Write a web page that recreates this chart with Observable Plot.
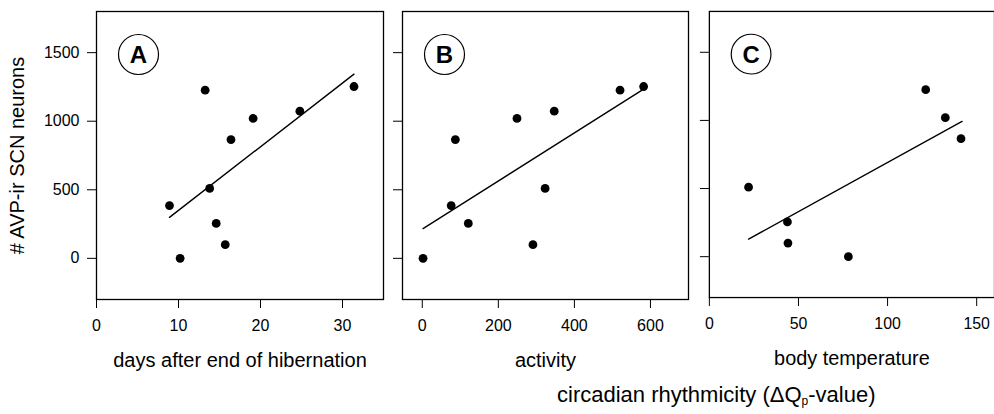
<!DOCTYPE html>
<html>
<head>
<meta charset="utf-8">
<script src="https://cdn.jsdelivr.net/npm/d3@7"></script>
<script src="https://cdn.jsdelivr.net/npm/@observablehq/plot@0.6"></script>
<style>
  html, body { margin: 0; padding: 0; background: #fff; overflow: hidden; }
  #wrap { position: relative; width: 994px; height: 414px; overflow: hidden; font-family: "Liberation Sans", Arial, sans-serif; color: #000; }
  .panel { position: absolute; top: 0; }
  #caption { position: absolute; left: 557px; top: 384px; font-size: 22px; line-height: 22px; white-space: nowrap; }
  #caption sub { font-size: 12px; vertical-align: -3px; line-height: 0; }
</style>
</head>
<body>
<div id="wrap">
  <div id="pA" class="panel" style="left:0px"></div>
  <div id="pB" class="panel" style="left:390px"></div>
  <div id="pC" class="panel" style="left:690px"></div>
  <div id="caption">circadian rhythmicity (ΔQ<sub>p</sub>-value)</div>
</div>
<script>
// number of AVP-ir SCN neurons per animal
const neurons   = [0, 100, 255, 385, 510, 866, 1020, 1073, 1226, 1253];
// circadian rhythmicity predictors (same animal order)
const daysAfter = [10.2, 15.7, 14.6, 8.9, 13.8, 16.4, 19.1, 24.8, 13.25, 31.4];
const activity  = [2, 291, 121, 76, 323, 87, 249, 347, 520, 582];
const bodyTemp  = [78, 44.1, 43.8, null, 22, 141.2, 132.4, null, 121.4, null];

// fitted regression line endpoints
const fitAx = [8.9, 31.4],  fitAy = [299, 1343];
const fitBx = [2, 582],     fitBy = [217, 1234];
const fitCx = [22, 141.8],  fitCy = [129, 993];

const yTicks = [0, 500, 1000, 1500];
const xTicksA = [0, 10, 20, 30];
const xTicksB = [0, 200, 400, 600];
const xTicksC = [0, 50, 100, 150];

const letters = ["A", "B", "C"];
const xTitles = ["days after end of hibernation", "activity", "body temperature"];
const yTitle = "# AVP-ir SCN neurons";

const FONT = '"Liberation Sans", Arial, sans-serif';

function panel({xs, fx, fy, xDomain, xTicks, letter, title, width, ml, mr, showY}) {
  const pts = neurons.map((n, i) => ({x: xs[i], y: n})).filter(d => d.x != null);
  const fit = fx.map((v, i) => ({x: v, y: fy[i]}));
  const marks = [
    Plot.frame({stroke: "#000", strokeWidth: 1.3}),
    Plot.line(fit, {x: "x", y: "y", stroke: "#000", strokeWidth: 1.4}),
    Plot.dot(pts, {x: "x", y: "y", r: 4.4, fill: "#000", stroke: null}),
    Plot.dot([letter], {frameAnchor: "top-left", dx: 42, dy: 43, r: 20, fill: "#fff", stroke: "#000", strokeWidth: 1.2}),
    Plot.text([letter], {frameAnchor: "top-left", dx: 42, dy: 44, text: d => d, fontSize: 24, fontWeight: "bold",
      fill: "#000", textAnchor: "middle", lineAnchor: "middle"}),
    Plot.text([title], {frameAnchor: "bottom", dy: 61, text: d => d, fontSize: 20, fill: "#000",
      textAnchor: "middle", lineAnchor: "middle"})
  ];
  if (showY) {
    marks.push(Plot.text([yTitle], {frameAnchor: "left", dx: -79, rotate: -90, text: d => d, fontSize: 20,
      fill: "#000", textAnchor: "middle", lineAnchor: "middle"}));
  }
  return Plot.plot({
    width, height: 380,
    marginLeft: ml, marginRight: mr, marginTop: 11, marginBottom: 81,
    style: {fontFamily: FONT, fontSize: "16px", color: "#000", background: "transparent", overflow: "visible"},
    x: {domain: xDomain, ticks: xTicks, tickSize: 9, tickPadding: 11, label: null, tickFormat: d => String(d)},
    y: {domain: [-300, 1800], ticks: yTicks, tickSize: 9, tickPadding: 8, label: null,
        tickFormat: showY ? (d => String(d)) : (() => "")},
    marks
  });
}

document.getElementById("pA").append(panel({
  xs: daysAfter, fx: fitAx, fy: fitAy, xDomain: [0, 35], xTicks: xTicksA,
  letter: letters[0], title: xTitles[0], width: 390, ml: 96, mr: 7, showY: true
}));
document.getElementById("pB").append(panel({
  xs: activity, fx: fitBx, fy: fitBy, xDomain: [-52, 700], xTicks: xTicksB,
  letter: letters[1], title: xTitles[1], width: 300, ml: 12, mr: 2, showY: false
}));
document.getElementById("pC").append(panel({
  xs: bodyTemp, fx: fitCx, fy: fitCy, xDomain: [0, 160], xTicks: xTicksC,
  letter: letters[2], title: xTitles[2], width: 306, ml: 19, mr: 0, showY: false
}));
</script>
</body>
</html>
